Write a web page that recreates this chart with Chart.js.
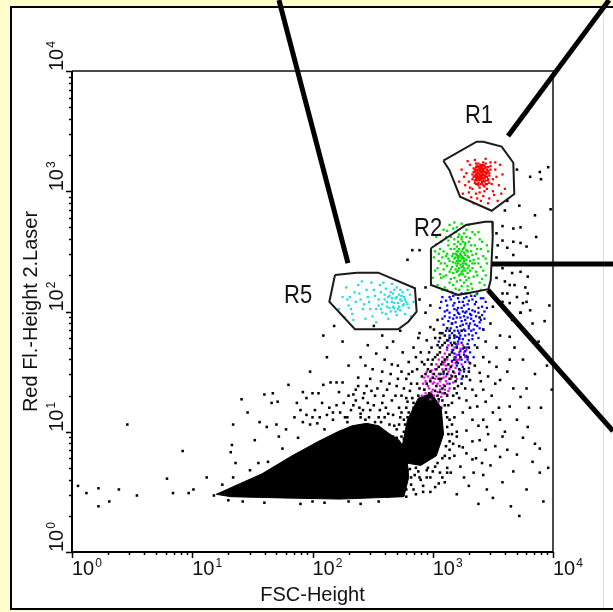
<!DOCTYPE html>
<html>
<head>
<meta charset="utf-8">
<title>FSC-Height / Red Fl.-Height 2.Laser</title>
<script src="https://cdn.jsdelivr.net/npm/chart.js@4.4.1/dist/chart.umd.min.js"></script>
<style>
  html, body { margin: 0; padding: 0; background: #fffdcc; }
  canvas { display: block; }
</style>
</head>
<body>
<canvas id="dotPlot" width="613" height="612"></canvas>
<script>
// All event and gate coordinates are log10 values (decades): [FSC, Red FL]
const axisDecades = [0, 1, 2, 3, 4];
const axisTitles = ['FSC-Height', 'Red Fl.-Height 2.Laser'];

// solid region where the debris / small events saturate the plot
const denseCore = [
    [1.20, 0.48], [1.40, 0.57], [1.58, 0.65], [1.83, 0.80], [2.05, 0.92], [2.21, 1.00],
    [2.33, 1.05], [2.45, 1.07], [2.55, 1.05], [2.63, 0.99], [2.72, 0.93], [2.78, 0.84],
    [2.80, 0.62], [2.76, 0.46], [2.23, 0.44], [1.73, 0.45], [1.32, 0.46], [1.20, 0.48]
];
const denseLobe = [
    [2.74, 0.85], [2.79, 1.10], [2.88, 1.28], [2.99, 1.32], [3.07, 1.20], [3.09, 0.98],
    [3.03, 0.80], [2.90, 0.72], [2.78, 0.74], [2.74, 0.85]
];

const blackEvents = [
    [0.05, 0.55], [0.12, 0.49], [0.22, 0.53], [0.22, 0.38], [0.31, 0.42], [0.39, 0.52], [0.54, 0.47],
    [0.46, 1.06], [0.79, 0.61], [0.84, 0.49], [0.92, 0.84], [0.97, 0.49], [1.01, 0.52], [1.12, 0.62],
    [1.18, 0.47], [1.34, 1.06], [1.33, 0.89], [1.32, 0.83], [1.36, 0.74], [1.41, 1.27], [1.46, 1.16],
    [1.56, 1.08], [1.62, 1.04], [1.70, 1.06], [1.52, 0.93], [1.60, 1.31], [1.67, 1.32], [1.66, 1.24],
    [1.71, 1.25], [1.80, 1.39], [1.87, 1.24], [1.92, 1.33], [1.95, 1.28], [2.00, 1.32], [2.05, 1.32],
    [2.09, 1.39], [2.15, 1.41], [2.20, 1.41], [2.25, 1.41], [2.22, 1.33], [2.34, 1.31], [1.90, 1.18],
    [1.95, 1.14], [2.00, 1.12], [2.06, 1.12], [2.12, 1.14], [2.17, 1.16], [2.23, 1.16], [2.29, 1.12],
    [1.92, 1.08], [1.98, 1.06], [2.04, 1.07], [2.17, 1.10], [2.29, 1.08], [2.34, 1.22], [1.63, 0.75],
    [1.48, 0.68], [1.34, 0.62], [1.25, 0.56], [1.42, 0.42], [1.75, 0.86], [1.88, 0.95], [2.10, 1.02],
    [2.27, 1.12], [2.40, 1.15], [1.55, 0.74], [2.12, 1.62], [2.25, 1.75], [2.30, 1.55], [1.98, 1.50],
    [2.18, 1.88], [2.09, 1.80],
    [1.60, 0.41], [1.90, 0.40], [2.10, 0.41], [2.40, 0.40], [2.55, 0.42], [1.30, 0.43], [2.00, 0.42],
    [2.30, 0.42],
    [2.38, 1.45], [2.42, 1.28], [2.45, 1.38], [2.48, 1.18], [2.50, 1.52], [2.52, 1.30], [2.55, 1.12],
    [2.57, 1.42], [2.58, 1.24], [2.60, 1.60], [2.62, 1.35], [2.63, 1.15], [2.65, 1.48], [2.66, 1.26],
    [2.68, 1.05], [2.70, 1.38], [2.71, 1.55], [2.72, 1.20], [2.74, 1.30], [2.75, 1.66], [2.76, 1.10],
    [2.78, 1.44], [2.79, 1.25], [2.80, 1.58], [2.81, 1.34], [2.83, 1.50], [2.84, 1.70], [2.86, 1.62],
    [2.87, 1.40], [2.88, 1.78], [2.40, 1.62], [2.46, 1.72], [2.53, 1.65], [2.36, 1.35], [2.44, 1.10],
    [2.56, 1.02], [2.61, 0.98], [2.67, 1.75], [2.73, 1.84], [2.58, 1.80], [2.51, 1.88], [2.44, 1.55],
    [2.62, 1.70], [2.70, 0.95], [2.54, 0.96], [2.48, 1.02], [2.40, 1.12],
    [2.32, 1.18], [2.36, 1.26], [2.39, 1.20], [2.43, 1.32], [2.46, 1.24], [2.49, 1.34], [2.51, 1.22],
    [2.54, 1.36], [2.56, 1.18], [2.59, 1.30], [2.61, 1.20], [2.64, 1.40], [2.67, 1.14], [2.69, 1.30],
    [2.71, 1.44], [2.74, 1.16], [2.76, 1.36], [2.78, 1.28], [2.80, 1.48], [2.82, 1.40], [2.57, 1.08],
    [2.60, 1.12], [2.64, 1.06], [2.52, 1.08], [2.47, 1.12], [2.42, 1.18], [2.58, 1.50], [2.66, 1.56],
    [2.74, 1.50], [2.48, 1.44], [2.38, 1.38], [2.30, 1.30], [2.26, 1.24], [2.20, 1.22], [2.14, 1.20],
    [2.08, 1.24], [2.02, 1.18], [1.85, 1.12], [1.78, 1.02], [1.72, 0.96],
    [2.66, 0.52], [2.70, 0.62], [2.72, 0.48], [2.68, 0.70], [2.74, 0.58], [2.69, 0.82], [2.71, 0.90],
    [2.76, 0.66], [2.65, 0.88], [2.73, 0.75], [2.63, 0.46], [2.78, 0.52], [2.60, 0.50], [2.57, 0.55],
    [2.55, 0.47], [2.82, 0.56], [2.86, 0.48], [2.92, 0.55], [2.98, 0.50], [3.05, 0.57], [2.85, 0.64],
    [2.95, 0.62], [3.08, 0.62], [2.76, 0.94], [2.67, 0.96],
    [2.70, 0.76], [2.72, 0.88], [2.74, 0.96], [2.77, 1.06], [2.80, 1.16], [2.84, 1.20], [2.88, 1.24],
    [2.93, 1.28], [2.99, 1.29], [3.05, 1.27], [3.10, 1.22], [3.12, 1.12], [3.13, 0.98], [3.11, 0.88],
    [3.08, 0.78], [3.02, 0.71], [2.95, 0.68], [2.88, 0.67], [2.81, 0.69], [2.75, 0.72], [2.69, 0.68],
    [2.67, 0.78], [2.66, 0.92], [2.70, 1.02], [2.73, 1.12], [2.78, 1.20], [2.83, 1.28], [3.16, 1.06],
    [3.17, 0.90], [3.14, 0.78], [3.06, 0.66], [2.98, 0.62], [2.90, 0.60], [2.82, 0.62], [2.76, 0.58],
    [2.70, 0.55], [2.64, 0.60], [2.62, 0.70], [2.63, 0.84], [2.61, 0.94], [3.20, 1.00], [3.22, 0.88],
    [3.18, 0.80], [3.12, 0.70], [2.92, 0.50], [2.84, 0.52], [2.78, 0.46], [3.02, 0.54], [3.10, 0.58],
    [3.15, 0.66],
    [2.90, 1.22], [2.95, 1.28], [3.00, 1.24], [3.04, 1.30], [3.08, 1.26], [3.12, 1.30], [2.93, 1.35],
    [2.98, 1.42], [3.03, 1.38], [3.07, 1.44], [3.10, 1.38], [3.14, 1.44], [2.96, 1.52], [3.01, 1.48],
    [3.05, 1.54], [3.09, 1.50], [3.13, 1.56], [3.17, 1.50], [3.00, 1.60], [3.04, 1.64], [3.08, 1.58],
    [3.12, 1.62], [3.16, 1.66], [3.20, 1.58], [3.06, 1.70], [3.10, 1.74], [3.14, 1.78], [3.18, 1.74],
    [3.22, 1.78], [3.02, 1.78], [3.08, 1.82], [3.12, 1.86], [3.16, 1.90], [3.26, 1.52], [3.24, 1.40],
    [3.20, 1.32], [3.16, 1.24], [2.88, 1.30], [2.86, 1.18], [2.92, 1.14], [2.97, 1.18], [3.02, 1.16],
    [3.07, 1.20], [3.11, 1.16], [3.14, 1.10], [3.13, 1.22], [3.18, 1.36], [2.99, 1.56], [2.94, 1.48],
    [3.06, 1.48], [3.19, 1.46], [3.23, 1.62], [3.28, 1.46], [2.91, 1.58], [2.97, 1.66],
    [2.92, 1.26], [2.97, 1.32], [3.02, 1.34], [3.06, 1.33], [3.10, 1.32], [2.95, 1.40], [3.00, 1.45],
    [3.05, 1.44], [3.12, 1.48], [3.16, 1.46], [2.98, 1.50], [3.03, 1.52], [3.07, 1.56], [3.11, 1.52],
    [3.15, 1.54], [3.02, 1.62], [3.06, 1.66], [3.10, 1.60], [3.14, 1.64], [3.18, 1.60], [3.08, 1.72],
    [3.12, 1.76], [3.16, 1.72], [3.20, 1.70], [3.04, 1.72], [3.10, 1.80], [3.14, 1.84], [3.18, 1.80],
    [3.24, 1.84], [3.06, 1.78], [2.89, 1.36], [2.91, 1.46], [2.93, 1.56], [2.96, 1.60], [2.99, 1.70],
    [3.22, 1.52], [3.25, 1.46], [3.21, 1.38], [3.17, 1.30], [3.22, 1.28], [3.27, 1.36], [3.30, 1.50],
    [3.29, 1.62], [3.26, 1.70], [3.01, 1.85], [2.95, 1.76], [2.90, 1.66], [2.87, 1.52], [3.19, 1.42],
    [3.08, 1.36],
    [2.74, 0.84], [2.76, 1.00], [2.79, 1.12], [2.84, 1.24], [3.12, 1.04], [3.14, 0.92], [3.10, 0.80],
    [3.04, 0.74], [2.96, 0.70], [2.86, 0.70], [3.16, 0.98], [3.18, 1.12], [2.72, 1.06],
    [3.58, 2.15], [3.64, 2.22], [3.79, 2.15], [3.64, 2.07], [3.75, 2.07], [3.81, 2.01], [3.66, 1.93],
    [3.73, 1.99], [3.83, 1.90], [3.56, 1.80], [3.64, 1.79], [3.53, 1.70], [3.64, 1.60], [3.75, 1.60],
    [3.53, 1.54], [3.46, 1.46], [3.56, 1.43], [3.67, 1.36], [3.78, 1.36], [3.73, 1.29], [3.64, 1.21],
    [3.50, 1.16], [3.56, 1.10], [3.45, 1.04], [3.58, 0.96], [3.79, 1.04], [3.89, 0.86], [3.83, 0.75],
    [3.70, 0.81], [3.56, 0.79], [3.48, 0.72], [3.67, 0.67], [3.89, 0.66], [3.42, 0.64], [3.33, 0.77],
    [3.23, 0.71], [3.12, 0.66], [3.00, 0.67], [2.89, 0.62], [2.79, 0.68], [3.39, 1.95], [3.42, 1.85],
    [3.37, 1.70], [3.42, 1.62], [3.31, 1.57], [3.39, 1.49], [3.31, 1.43], [3.33, 1.35], [3.42, 1.35],
    [3.28, 1.26], [3.37, 1.21], [3.25, 1.16], [3.33, 1.10], [3.42, 1.10], [3.28, 1.01], [3.20, 0.96],
    [3.39, 0.93], [3.25, 0.87], [3.14, 0.85],
    [3.30, 1.70], [3.35, 1.55], [3.40, 1.42], [3.36, 1.30], [3.44, 1.25], [3.31, 1.20], [3.38, 1.05],
    [3.46, 0.98], [3.33, 0.92], [3.28, 0.82], [3.36, 0.78], [3.44, 0.85], [3.49, 1.30], [3.47, 1.58],
    [3.44, 1.75], [3.48, 1.90], [3.52, 1.40], [3.55, 1.20], [3.60, 1.00], [3.62, 0.85], [3.26, 0.62],
    [3.34, 0.66], [3.41, 0.74], [3.52, 0.88], [3.70, 1.10], [3.62, 1.50], [3.68, 1.70], [3.85, 1.48],
    [3.80, 1.20], [3.75, 0.95],
    [3.70, 3.18], [3.81, 3.12], [3.60, 2.84], [3.58, 2.71], [3.67, 2.69], [3.73, 2.70], [3.53, 2.65],
    [3.54, 2.55], [3.58, 2.59], [3.62, 2.53], [3.67, 2.58], [3.73, 2.57], [3.78, 2.54], [3.67, 2.47],
    [3.53, 2.45], [3.58, 2.36], [3.66, 2.32], [3.73, 2.33], [3.79, 2.29], [3.53, 2.28], [3.60, 2.25],
    [3.68, 2.22], [3.77, 2.20], [3.62, 2.15], [3.70, 2.12], [3.78, 2.08], [3.58, 2.08], [3.50, 2.04],
    [3.73, 1.99], [2.83, 2.51], [2.79, 2.43], [2.89, 2.51], [2.94, 2.20], [2.89, 2.10], [2.98, 2.05],
    [2.94, 1.99], [3.04, 1.93], [2.98, 1.87], [2.89, 1.82], [3.06, 1.82],
    [3.50, 0.45], [3.65, 0.38], [3.78, 0.52], [3.92, 0.42], [3.72, 0.30], [3.58, 0.58], [3.96, 0.70],
    [3.85, 0.90], [3.45, 0.52], [3.30, 0.55], [3.20, 0.48], [3.38, 0.40], [3.90, 1.20], [3.95, 1.55],
    [3.88, 1.75], [3.97, 2.05], [3.92, 2.40], [3.86, 2.62], [3.98, 2.85], [3.90, 3.10], [3.96, 3.20],
    [3.85, 2.80], [3.93, 1.92], [3.99, 1.35], [3.89, 3.16], [3.62, 2.92], [3.72, 2.88]
];

// R1
const redEvents = [
    [3.38, 3.15], [3.40, 3.12], [3.42, 3.17], [3.36, 3.10], [3.44, 3.14], [3.39, 3.19], [3.41, 3.08],
    [3.35, 3.16], [3.43, 3.11], [3.37, 3.13], [3.45, 3.18], [3.40, 3.20], [3.34, 3.12], [3.46, 3.09],
    [3.38, 3.07], [3.42, 3.22], [3.36, 3.18], [3.44, 3.06], [3.39, 3.14], [3.41, 3.16], [3.37, 3.21],
    [3.43, 3.13], [3.35, 3.09], [3.47, 3.15], [3.40, 3.10], [3.38, 3.23], [3.45, 3.12], [3.33, 3.14],
    [3.42, 3.05], [3.36, 3.06], [3.44, 3.20], [3.41, 3.13], [3.39, 3.11], [3.37, 3.17], [3.43, 3.16],
    [3.40, 3.18], [3.46, 3.17], [3.34, 3.19], [3.38, 3.12], [3.42, 3.09],
    [3.35, 3.13], [3.37, 3.15], [3.39, 3.17], [3.41, 3.19], [3.43, 3.21], [3.36, 3.20], [3.38, 3.18],
    [3.40, 3.16], [3.42, 3.14], [3.44, 3.12], [3.46, 3.10], [3.35, 3.07], [3.37, 3.09], [3.39, 3.09],
    [3.41, 3.11], [3.43, 3.08], [3.45, 3.06], [3.38, 3.05], [3.40, 3.06], [3.36, 3.12], [3.44, 3.16],
    [3.42, 3.18], [3.39, 3.21], [3.37, 3.11], [3.41, 3.14], [3.43, 3.19], [3.45, 3.15], [3.34, 3.16],
    [3.47, 3.13], [3.36, 3.14], [3.40, 3.13], [3.38, 3.10], [3.42, 3.11], [3.44, 3.09], [3.40, 3.22],
    [3.38, 3.20], [3.46, 3.20], [3.35, 3.18], [3.41, 3.07], [3.43, 3.04], [3.37, 3.06], [3.39, 3.13],
    [3.41, 3.21], [3.44, 3.23], [3.36, 3.23], [3.48, 3.18], [3.33, 3.10], [3.47, 3.07], [3.39, 3.03],
    [3.42, 3.24],
    [3.30, 3.08], [3.28, 3.15], [3.50, 3.10], [3.52, 3.18], [3.31, 3.22], [3.48, 3.24], [3.33, 3.02],
    [3.45, 3.02], [3.39, 2.99], [3.55, 3.05], [3.27, 3.05], [3.50, 3.00], [3.42, 2.96], [3.36, 2.98],
    [3.29, 3.25], [3.47, 2.94], [3.53, 3.12], [3.32, 2.95], [3.44, 3.27], [3.58, 3.14], [3.26, 3.12],
    [3.40, 2.92], [3.51, 2.97], [3.35, 3.26], [3.49, 3.06], [3.30, 2.99], [3.56, 3.22], [3.24, 3.18],
    [3.43, 3.00], [3.37, 2.94], [3.60, 3.02], [3.22, 3.08], [3.54, 2.92], [3.46, 2.90], [3.31, 3.03],
    [3.25, 2.98], [3.48, 3.21], [3.57, 2.98], [3.34, 2.90], [3.52, 3.24]
];

// R2
const greenEvents = [
    [3.22, 2.42], [3.25, 2.45], [3.20, 2.38], [3.27, 2.40], [3.23, 2.48], [3.18, 2.44], [3.26, 2.36],
    [3.21, 2.50], [3.24, 2.33], [3.29, 2.46], [3.19, 2.35], [3.23, 2.39], [3.28, 2.43], [3.21, 2.46],
    [3.25, 2.52], [3.17, 2.41], [3.30, 2.38], [3.22, 2.30], [3.26, 2.49], [3.20, 2.54], [3.24, 2.44],
    [3.27, 2.34], [3.19, 2.48], [3.23, 2.56], [3.31, 2.42], [3.16, 2.37], [3.25, 2.40], [3.21, 2.34],
    [3.28, 2.51], [3.22, 2.45], [3.18, 2.52], [3.26, 2.42], [3.24, 2.37], [3.20, 2.42], [3.29, 2.36],
    [3.23, 2.47], [3.27, 2.55], [3.21, 2.40], [3.25, 2.31], [3.19, 2.45],
    [3.21, 2.44], [3.24, 2.46], [3.26, 2.44], [3.22, 2.36], [3.20, 2.47], [3.25, 2.38], [3.23, 2.42],
    [3.27, 2.47], [3.19, 2.40], [3.28, 2.39], [3.22, 2.52], [3.24, 2.50], [3.26, 2.53], [3.20, 2.33],
    [3.23, 2.31], [3.27, 2.29], [3.18, 2.56], [3.25, 2.58], [3.21, 2.58], [3.29, 2.50], [3.16, 2.46],
    [3.17, 2.32], [3.30, 2.45], [3.31, 2.34], [3.14, 2.42], [3.32, 2.50], [3.15, 2.52], [3.12, 2.38],
    [3.34, 2.43], [3.11, 2.46], [3.18, 2.28], [3.28, 2.26], [3.23, 2.26], [3.21, 2.62], [3.26, 2.65],
    [3.19, 2.66], [3.30, 2.58], [3.13, 2.59], [3.35, 2.55], [3.09, 2.50], [3.36, 2.48], [3.07, 2.40],
    [3.38, 2.40], [3.09, 2.29], [3.37, 2.30], [3.14, 2.24], [3.32, 2.23], [3.24, 2.21], [3.19, 2.19],
    [3.29, 2.18], [3.11, 2.62], [3.33, 2.66], [3.17, 2.69], [3.26, 2.71], [3.05, 2.48], [3.04, 2.36],
    [3.40, 2.52], [3.42, 2.34], [3.07, 2.58], [3.39, 2.60], [3.02, 2.50], [3.44, 2.44], [3.06, 2.31],
    [3.41, 2.27], [3.12, 2.18], [3.31, 2.15], [3.22, 2.14], [3.18, 2.74], [3.30, 2.72], [3.09, 2.68],
    [3.03, 2.62], [3.45, 2.55], [3.15, 2.35], [3.27, 2.57], [3.33, 2.40], [3.20, 2.50], [3.29, 2.32],
    [3.17, 2.48], [3.25, 2.34], [3.24, 2.62],
    [3.10, 2.40], [3.12, 2.48], [3.14, 2.33], [3.33, 2.47], [3.35, 2.40], [3.36, 2.33], [3.13, 2.55],
    [3.32, 2.55], [3.15, 2.27], [3.30, 2.28], [3.24, 2.60], [3.18, 2.60], [3.28, 2.62], [3.08, 2.45],
    [3.38, 2.44], [3.11, 2.30], [3.34, 2.29], [3.20, 2.25], [3.26, 2.24], [3.22, 2.64], [3.15, 2.62],
    [3.31, 2.61], [3.06, 2.52], [3.40, 2.37], [3.09, 2.35], [3.37, 2.52], [3.17, 2.22], [3.29, 2.21],
    [3.13, 2.44], [3.33, 2.36],
    [3.03, 2.56], [3.05, 2.42], [3.02, 2.34], [3.07, 2.28], [3.04, 2.22], [3.42, 2.46], [3.44, 2.30],
    [3.41, 2.58], [3.45, 2.40], [3.39, 2.24], [3.12, 2.67], [3.20, 2.70], [3.28, 2.68], [3.35, 2.64],
    [3.10, 2.20], [3.22, 2.18], [3.33, 2.19], [3.16, 2.16], [3.27, 2.15], [3.40, 2.18], [3.06, 2.64],
    [3.01, 2.45], [3.46, 2.50], [3.38, 2.66], [3.14, 2.72], [3.08, 2.18], [3.43, 2.22], [3.36, 2.14],
    [3.24, 2.73], [3.00, 2.28]
];

const blueEvents = [
    [3.15, 2.10], [3.22, 2.08], [3.28, 2.12], [3.35, 2.06], [3.18, 2.02], [3.25, 2.00], [3.31, 1.98],
    [3.38, 2.03], [3.12, 2.05], [3.20, 1.95], [3.27, 1.93], [3.34, 1.92], [3.41, 1.97], [3.16, 1.90],
    [3.23, 1.88], [3.30, 1.86], [3.37, 1.88], [3.10, 1.96], [3.44, 2.08], [3.08, 2.12], [3.19, 2.14],
    [3.26, 2.05], [3.32, 2.13], [3.40, 2.11], [3.14, 1.99], [3.21, 2.03], [3.29, 1.95], [3.36, 1.96],
    [3.24, 1.92], [3.17, 1.94], [3.33, 2.01], [3.27, 1.99], [3.11, 2.09], [3.39, 1.91], [3.22, 1.98],
    [3.30, 2.09], [3.06, 2.03], [3.43, 2.00], [3.18, 2.07], [3.26, 2.11], [3.35, 1.89], [3.13, 1.92],
    [3.28, 1.90], [3.20, 1.87], [3.42, 1.85], [3.09, 1.89], [3.37, 2.15], [3.24, 2.15],
    [3.17, 2.05], [3.24, 2.03], [3.29, 2.06], [3.33, 2.10], [3.21, 1.99], [3.26, 1.96], [3.32, 1.94],
    [3.38, 1.99], [3.19, 1.91], [3.23, 1.95], [3.30, 2.02], [3.36, 2.08], [3.14, 2.12], [3.21, 2.11],
    [3.28, 2.15], [3.41, 2.04], [3.12, 2.01], [3.18, 1.97], [3.25, 1.89], [3.31, 1.90], [3.34, 1.85],
    [3.40, 1.93], [3.15, 1.86], [3.21, 1.84], [3.27, 1.84], [3.10, 2.00], [3.45, 2.03], [3.07, 2.08],
    [3.43, 1.94], [3.35, 2.13], [3.23, 1.80], [3.25, 1.77], [3.21, 1.75], [3.29, 1.73], [3.19, 1.73],
    [3.27, 1.67], [3.22, 1.64], [3.24, 1.60], [3.28, 1.63], [3.18, 1.65], [3.20, 1.55], [3.26, 1.50],
    [3.22, 1.48], [3.30, 1.81], [3.16, 1.82], [3.33, 1.77], [3.13, 1.76], [3.36, 1.82], [3.11, 1.84],
    [3.39, 1.86], [3.28, 2.00], [3.14, 1.95], [3.35, 2.00], [3.17, 2.13], [3.30, 1.88], [3.08, 1.94],
    [3.42, 2.11], [3.25, 2.08], [3.20, 2.01], [3.32, 1.97],
    [3.22, 1.82], [3.27, 1.80], [3.18, 1.78], [3.30, 1.76], [3.24, 1.74], [3.20, 1.71], [3.28, 1.70],
    [3.15, 1.74], [3.33, 1.80], [3.23, 1.67], [3.26, 1.64], [3.19, 1.62], [3.29, 1.60], [3.21, 1.57],
    [3.25, 1.54], [3.17, 1.68], [3.31, 1.66], [3.14, 1.80], [3.35, 1.72], [3.22, 1.77], [3.26, 1.85],
    [3.18, 1.84], [3.12, 1.70], [3.27, 1.58], [3.23, 1.51], [3.30, 1.53], [3.16, 1.59], [3.20, 1.79],
    [3.32, 1.84], [3.25, 1.69], [3.09, 1.48], [3.24, 1.44], [3.14, 1.40], [3.34, 1.62], [3.05, 1.75],
    [3.38, 1.78]
];

const magentaEvents = [
    [3.18, 1.70], [3.22, 1.66], [3.14, 1.64], [3.25, 1.72], [3.20, 1.60], [3.10, 1.58], [3.16, 1.55],
    [3.27, 1.62], [3.12, 1.68], [3.08, 1.52], [3.05, 1.48], [3.13, 1.50], [3.19, 1.53], [3.02, 1.44],
    [3.09, 1.45], [3.15, 1.47], [3.00, 1.40], [3.06, 1.38], [3.11, 1.42], [2.97, 1.36], [3.04, 1.33],
    [3.10, 1.35], [2.94, 1.32], [3.01, 1.30], [3.07, 1.29], [2.92, 1.40], [2.96, 1.46], [3.17, 1.41],
    [3.22, 1.49], [3.03, 1.56], [2.99, 1.51], [3.14, 1.36], [2.91, 1.30], [3.08, 1.62], [3.24, 1.56],
    [3.28, 1.68], [3.12, 1.31], [2.98, 1.27], [3.05, 1.25], [3.18, 1.62], [2.93, 1.45], [3.20, 1.44],
    [3.00, 1.35], [3.16, 1.58], [3.30, 1.58], [3.11, 1.55], [2.95, 1.50], [3.06, 1.42], [3.21, 1.73],
    [3.13, 1.72],
    [3.16, 1.68], [3.20, 1.64], [3.12, 1.60], [3.09, 1.56], [3.14, 1.52], [3.07, 1.48], [3.03, 1.46],
    [3.11, 1.46], [3.01, 1.41], [3.06, 1.35], [2.99, 1.33], [3.04, 1.40], [2.96, 1.38], [3.09, 1.39],
    [3.15, 1.44], [3.18, 1.49], [3.02, 1.52], [2.94, 1.42], [3.13, 1.34], [3.22, 1.60], [3.26, 1.66],
    [3.10, 1.65], [3.05, 1.60], [2.98, 1.44], [3.08, 1.32], [2.93, 1.35], [3.19, 1.57], [3.23, 1.69],
    [3.00, 1.48], [3.12, 1.40]
];

// R5
const cyanEvents = [
    [2.25, 2.12], [2.30, 2.05], [2.28, 2.20], [2.35, 2.16], [2.33, 1.98], [2.40, 2.10], [2.38, 2.22],
    [2.42, 2.02], [2.45, 2.18], [2.47, 2.08], [2.50, 1.96], [2.52, 2.13], [2.49, 2.24], [2.55, 2.05],
    [2.57, 2.16], [2.58, 1.99], [2.60, 2.10], [2.62, 2.04], [2.61, 2.19], [2.64, 2.13], [2.65, 2.00],
    [2.66, 2.08], [2.67, 2.15], [2.68, 2.03], [2.69, 2.11], [2.70, 1.97], [2.71, 2.07], [2.72, 2.14],
    [2.73, 2.01], [2.74, 2.09], [2.75, 2.05], [2.76, 2.12], [2.77, 1.98], [2.78, 2.08], [2.63, 1.94],
    [2.70, 2.20], [2.80, 2.03], [2.81, 2.14], [2.56, 2.22], [2.44, 1.94], [2.36, 2.08], [2.27, 1.95],
    [2.22, 2.02], [2.53, 1.91], [2.82, 1.96], [2.59, 2.24], [2.48, 2.02], [2.66, 2.23], [2.73, 2.18],
    [2.79, 2.18], [2.41, 2.25], [2.34, 1.93], [2.84, 2.08], [2.31, 2.12],
    [2.62, 2.08], [2.64, 2.03], [2.66, 2.11], [2.68, 2.07], [2.70, 2.12], [2.72, 2.04], [2.74, 2.13],
    [2.76, 2.06], [2.65, 2.16], [2.69, 2.00], [2.73, 2.10], [2.77, 2.10], [2.71, 2.02], [2.67, 2.04],
    [2.63, 2.12], [2.58, 2.06], [2.60, 2.14], [2.55, 2.10], [2.53, 2.02], [2.46, 2.12], [2.43, 2.06],
    [2.39, 2.15], [2.32, 2.02], [2.29, 2.10], [2.51, 2.18], [2.75, 2.16], [2.79, 2.06], [2.61, 1.98],
    [2.57, 2.02], [2.68, 2.18]
];

// gate outlines
const gateR1 = [
    [3.088, 3.254], [3.365, 3.412], [3.420, 3.412], [3.573, 3.371], [3.670, 3.237],
    [3.678, 2.977], [3.490, 2.838], [3.227, 2.955], [3.138, 3.177], [3.088, 3.254]
];
const gateR2 = [
    [2.985, 2.526], [3.277, 2.719], [3.435, 2.747], [3.495, 2.747], [3.499, 2.622],
    [3.482, 2.262], [3.462, 2.185], [3.212, 2.137], [2.985, 2.220], [2.985, 2.526]
];
const gateR5 = [
    [2.187, 2.304], [2.368, 2.323], [2.547, 2.323], [2.852, 2.193], [2.866, 1.998],
    [2.797, 1.915], [2.713, 1.852], [2.353, 1.852], [2.140, 2.081], [2.187, 2.304]
];
const gateNames = ['R1', 'R2', 'R5'];
const gateLabelAt = [[3.268, 3.568], [2.844, 2.628], [1.763, 2.071]];

// callout lines leading off the plot towards R5, R1, R2 and the blue cluster
const pointerLines = [
    [[1.721, 4.590], [2.295, 2.403]],
    [[4.466, 4.590], [3.626, 3.459]],
    [[3.493, 2.395], [4.499, 2.395]],
    [[3.459, 2.179], [4.499, 1.006]]
];

const toPoint = d => ({ x: 10 ** d[0], y: 10 ** d[1] });
const FONT = '"Liberation Sans", Arial, sans-serif';

function dots(data, color, radius) {
    return {
        data: data.map(toPoint),
        backgroundColor: color,
        borderWidth: 0,
        pointStyle: 'rect',
        pointRadius: radius,
        showLine: false
    };
}

function outline(data, width) {
    return {
        type: 'line',
        data: data.map(toPoint),
        borderColor: '#1a1a1a',
        borderWidth: width,
        pointRadius: 0,
        fill: false,
        tension: 0
    };
}

function solid(data) {
    return {
        type: 'line',
        data: data.map(toPoint),
        borderColor: '#000',
        backgroundColor: '#000',
        borderWidth: 1,
        pointRadius: 0,
        fill: 'shape',
        tension: 0
    };
}

// superscript tick label "10^n", drawn along the local x direction
function powerLabel(ctx, exp) {
    ctx.font = '20px ' + FONT;
    ctx.fillText('10', 0, 0);
    const w = ctx.measureText('10').width;
    ctx.font = '12px ' + FONT;
    ctx.fillText(String(exp), w + 1, -8);
}

const plotFrame = {
    id: 'plotFrame',
    beforeDraw(chart) {
        const ctx = chart.ctx;
        ctx.save();
        ctx.fillStyle = '#fffdcc';
        ctx.fillRect(0, 0, chart.width, chart.height);
        ctx.fillStyle = '#ffffff';
        ctx.fillRect(11, 7, chart.width - 11, 602);
        ctx.strokeStyle = '#000';
        ctx.lineWidth = 2;
        ctx.beginPath();
        ctx.moveTo(chart.width, 7);
        ctx.lineTo(11, 7);
        ctx.lineTo(11, 609);
        ctx.lineTo(chart.width, 609);
        ctx.stroke();
        ctx.strokeStyle = '#dcdcdc';
        ctx.lineWidth = 1;
        ctx.beginPath();
        ctx.moveTo(603.5, 8);
        ctx.lineTo(603.5, 608);
        ctx.stroke();
        ctx.restore();
    },
    beforeDatasetsDraw(chart) {
        const { ctx, chartArea: a, scales: { x, y } } = chart;
        ctx.save();
        ctx.lineWidth = 2;
        ctx.strokeStyle = '#4a4a4a';
        ctx.beginPath();
        ctx.moveTo(a.left, a.top);
        ctx.lineTo(a.right, a.top);
        ctx.lineTo(a.right, a.bottom);
        ctx.stroke();
        ctx.strokeStyle = '#000';
        ctx.beginPath();
        ctx.moveTo(a.left, a.top);
        ctx.lineTo(a.left, a.bottom);
        ctx.lineTo(a.right, a.bottom);
        ctx.stroke();

        // log ticks: long at each decade, short at 2..9
        ctx.lineWidth = 1.5;
        ctx.beginPath();
        axisDecades.forEach((d, i) => {
            for (let m = 1; m <= 9; m++) {
                if (m > 1 && i === axisDecades.length - 1) break;
                const v = m * 10 ** d;
                const len = m === 1 ? 6 : 3;
                const px = Math.round(x.getPixelForValue(v)) + 0.5;
                ctx.moveTo(px, a.bottom);
                ctx.lineTo(px, a.bottom + len);
                const py = Math.round(y.getPixelForValue(v)) + 0.5;
                ctx.moveTo(a.left, py);
                ctx.lineTo(a.left - len, py);
            }
        });
        ctx.stroke();
        ctx.restore();
    },
    afterDraw(chart) {
        const { ctx, chartArea: a, scales: { x, y } } = chart;
        ctx.save();
        ctx.fillStyle = '#111';
        ctx.textAlign = 'left';
        ctx.textBaseline = 'alphabetic';

        axisDecades.forEach(d => {
            ctx.save();
            ctx.translate(x.getPixelForValue(10 ** d), a.bottom + 23);
            powerLabel(ctx, d);
            ctx.restore();

            ctx.save();
            ctx.translate(a.left - 9, y.getPixelForValue(10 ** d));
            ctx.rotate(-Math.PI / 2);
            powerLabel(ctx, d);
            ctx.restore();
        });

        ctx.font = '20px ' + FONT;
        ctx.textAlign = 'center';
        ctx.fillText(axisTitles[0], (a.left + a.right) / 2, a.bottom + 49);
        ctx.save();
        ctx.translate(37, (a.top + a.bottom) / 2);
        ctx.rotate(-Math.PI / 2);
        ctx.fillText(axisTitles[1], 0, 0);
        ctx.restore();

        // gate names
        ctx.textAlign = 'left';
        ctx.font = '22px ' + FONT;
        gateNames.forEach((name, i) => {
            const p = toPoint(gateLabelAt[i]);
            ctx.save();
            ctx.translate(x.getPixelForValue(p.x), y.getPixelForValue(p.y));
            ctx.scale(1, 1.15);
            ctx.fillText(name, 0, 0);
            ctx.restore();
        });
        ctx.restore();
    }
};

// listed top layer first; order is assigned from this sequence
const datasets = [];
pointerLines.forEach(seg => datasets.push(Object.assign(outline(seg, 5), {
    borderColor: '#000', clip: false, borderCapStyle: 'butt'
})));
[gateR1, gateR2, gateR5].forEach(g => datasets.push(outline(g, 2)));
datasets.push(dots(redEvents, '#ff0000', 1.6));
datasets.push(dots(greenEvents, '#00dd00', 1.6));
datasets.push(dots(cyanEvents, '#22dddd', 1.6));
datasets.push(dots(blueEvents, '#0000ff', 1.6));
datasets.push(dots(blackEvents, '#000000', 1.8));
datasets.push(dots(magentaEvents, '#ee00ee', 1.6));
datasets.push(solid(denseLobe));
datasets.push(solid(denseCore));
datasets.forEach((ds, i) => { ds.order = i; });

new Chart(document.getElementById('dotPlot'), {
    type: 'scatter',
    data: { datasets },
    options: {
        responsive: false,
        animation: false,
        events: [],
        layout: { padding: { left: 72, top: 71, right: 60, bottom: 60 } },
        scales: {
            x: { type: 'logarithmic', min: 1, max: 10000, display: false },
            y: { type: 'logarithmic', min: 1, max: 10000, display: false }
        },
        plugins: {
            legend: { display: false },
            tooltip: { enabled: false }
        }
    },
    plugins: [plotFrame]
});
</script>
</body>
</html>
